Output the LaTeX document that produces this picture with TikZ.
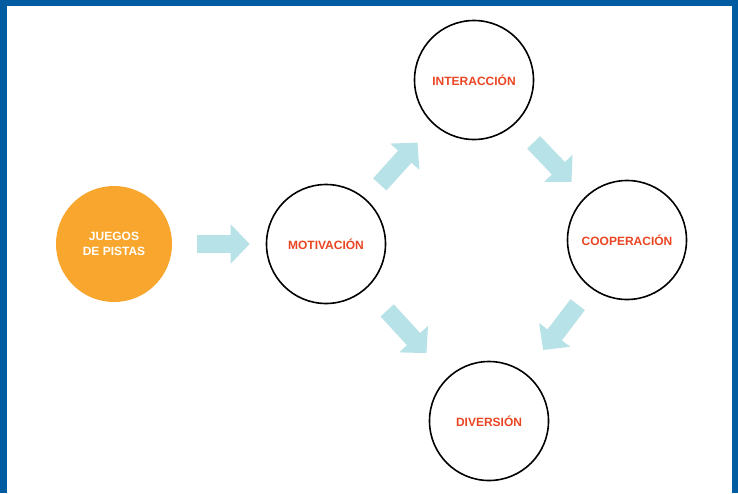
\documentclass[tikz,border=0pt]{standalone}
\usepackage{fontspec}
\setmainfont{Liberation Sans}
\usetikzlibrary{arrows.meta}

\definecolor{framebl}{RGB}{0,91,160}
\definecolor{pistaor}{RGB}{248,166,45}
\definecolor{textred}{RGB}{234,70,36}
\definecolor{arrowbl}{RGB}{183,226,231}

\begin{document}
\begin{tikzpicture}[x=1pt,y=-1pt]

      % frame
      \fill[framebl] (0,0) rectangle (738,493);
      \fill[white] (7,6) rectangle (732,493);
      \useasboundingbox (0,0) rectangle (738,493);

      \begin{scope}[every node/.style={circle,draw,line width=1.6pt,minimum size=119pt,
          inner sep=0pt,align=center,text=textred,
          font=\bfseries\fontsize{12}{15}\selectfont}]
        \node (jue) at (114,244) [fill=pistaor,draw=none,minimum size=116pt,text=white] {JUEGOS\\DE PISTAS};
        \node (mot) at (326,244) {MOTIVACIÓN};
        \node (int) at (474,80)  {INTERACCIÓN};
        \node (coo) at (627,240) {COOPERACIÓN};
        \node (div) at (489,421) {DIVERSIÓN};
      \end{scope}

      \begin{scope}[every edge/.style={draw=arrowbl,line width=18pt,
          -{Triangle[width=38pt,length=19pt]}}]
        \path (jue) edge[shorten <=24pt,shorten >=16pt] (mot);
        \path (mot) edge[shorten <=20pt,shorten >=24pt] (int);
        \path (int) edge[shorten <=26pt,shorten >=20pt] (coo);
        \path (mot) edge[shorten <=30pt,shorten >=32pt] (div);
        \path (coo) edge[shorten <=21pt,shorten >=29pt] (div);
      \end{scope}

    \end{tikzpicture}
\end{document}
